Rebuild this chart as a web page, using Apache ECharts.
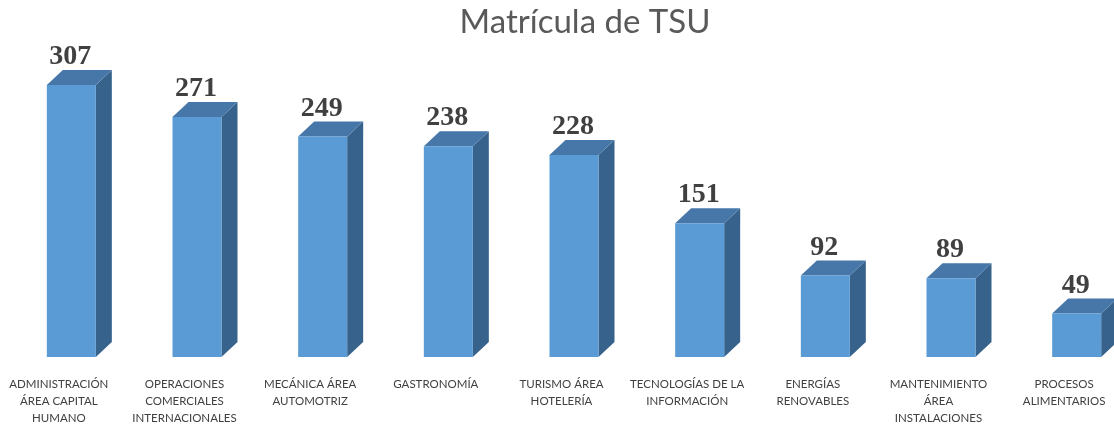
<!DOCTYPE html>
<html>
<head>
<meta charset="utf-8">
<script src="https://cdn.jsdelivr.net/npm/echarts@6/dist/echarts.min.js"></script>
<style>
  html, body { margin: 0; padding: 0; background: #fff; overflow: hidden; }
  #chart { width: 1131px; height: 427px; margin-left: -4px; }
</style>
</head>
<body>
<div id="chart"></div>
<script>
  // categorias y matricula
  var categories = [
    'ADMINISTRACIÓN\nÁREA CAPITAL\nHUMANO',
    'OPERACIONES\nCOMERCIALES\nINTERNACIONALES',
    'MECÁNICA ÁREA\nAUTOMOTRIZ',
    'GASTRONOMÍA',
    'TURISMO ÁREA\nHOTELERÍA',
    'TECNOLOGÍAS DE LA\nINFORMACIÓN',
    'ENERGÍAS\nRENOVABLES',
    'MANTENIMIENTO\nÁREA\nINSTALACIONES',
    'PROCESOS\nALIMENTARIOS'
  ];
  var values = [307, 271, 249, 238, 228, 151, 92, 89, 49];

  var chart = echarts.init(document.getElementById('chart'));

  // barra 3d: cara frontal, lateral y superior
  function renderBar(params, api) {
    var top = api.coord([api.value(0), api.value(1)]);
    var base = api.coord([api.value(0), 0]);
    var x0 = top[0] - 12, x1 = top[0] + 37;
    var dx = 16, dy = 15;
    var yt = top[1], yb = base[1];
    return {
      type: 'group',
      children: [
        {
          type: 'polygon',
          shape: { points: [[x1, yt], [x1 + dx, yt - dy], [x1 + dx, yb - dy], [x1, yb]] },
          style: { fill: '#37628C' }
        },
        {
          type: 'polygon',
          shape: { points: [[x0, yt], [x0 + dx, yt - dy], [x1 + dx, yt - dy], [x1, yt]] },
          style: { fill: '#4677A8' }
        },
        {
          type: 'rect',
          shape: { x: x0, y: yt, width: x1 - x0, height: yb - yt },
          style: { fill: '#5B9BD5' }
        },
        {
          type: 'text',
          x: (x0 + x1) / 2 - 1,
          y: yt - dy + 1,
          style: {
            text: String(api.value(1)),
            fill: '#404040',
            font: 'bold 28px "Liberation Serif", "DejaVu Serif", serif',
            align: 'center',
            verticalAlign: 'bottom'
          }
        }
      ]
    };
  }

  chart.setOption({
    animation: false,
    title: {
      text: 'Matrícula de TSU',
      left: 584,
      top: 1,
      textAlign: 'center',
      textStyle: {
        color: '#595959',
        fontFamily: 'Lato',
        fontWeight: 'normal',
        fontSize: 33
      }
    },
    grid: { left: 0, right: 0, top: 47, bottom: 69 },
    xAxis: {
      type: 'category',
      data: categories,
      axisLine: { show: false },
      axisTick: { show: false },
      axisLabel: {
        interval: 0,
        margin: 19,
        color: '#404040',
        fontFamily: 'Lato',
        fontSize: 11.5,
        lineHeight: 17
      }
    },
    yAxis: {
      type: 'value',
      min: 0,
      max: 350,
      show: false,
      splitLine: { show: false }
    },
    series: [{
      type: 'custom',
      renderItem: renderBar,
      data: values.map(function (v, i) { return [i, v]; }),
      encode: { x: 0, y: 1 },
      clip: false
    }]
  });
</script>
</body>
</html>
